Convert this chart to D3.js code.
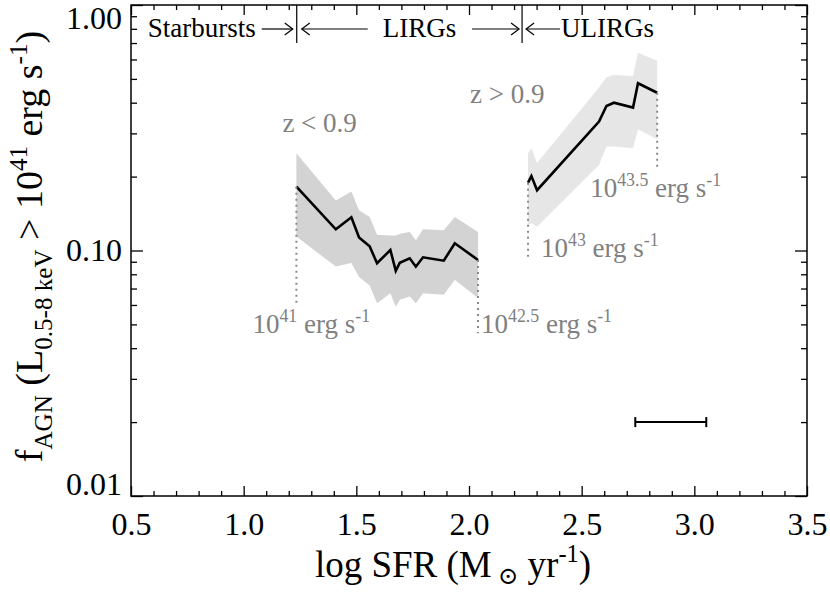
<!DOCTYPE html>
<meta charset="utf-8">
<style>
body { margin: 0; background: #fff; }
svg { display: block; font-family: 'Liberation Serif', 'DejaVu Serif', serif; }
.frame { fill: none; stroke: #000; stroke-width: 1.5px; }
.axis path { display: none; }
.axis line { stroke: #000; stroke-width: 1.3px; }
.axis text { font-size: 32px; fill: #000; font-family: 'Liberation Serif', 'DejaVu Serif', serif; }
.band-low { fill: #d3d3d3; }
.band-high { fill: #e6e6e6; }
.line { fill: none; stroke: #000; stroke-width: 2.6px; }
.drop { stroke: #8a8a8a; stroke-width: 2px; stroke-dasharray: 2,4; }
.note { fill: #808080; font-size: 27px; white-space: pre; }
.head { fill: #000; font-size: 27px; }
.title { fill: #000; white-space: pre; }
.arrow { fill: none; stroke: #000; stroke-width: 1.2px; }
</style>
<body>
<script src="https://d3js.org/d3.v7.min.js"></script>
<script>

// z < 0.9 sample: log SFR, AGN fraction and the shaded range
var sfrLow    = [1.234, 1.409, 1.478, 1.512, 1.559, 1.592, 1.651, 1.675, 1.693, 1.737, 1.764, 1.796, 1.888, 1.937, 2.040];
var fracLow   = [0.182, 0.122, 0.1365, 0.113, 0.104, 0.0887, 0.1005, 0.0827, 0.0892, 0.0929, 0.0859, 0.0938, 0.0909, 0.107, 0.0915];
var fracLowUp = [0.249, 0.160, 0.174, 0.146, 0.137, 0.116, 0.115, 0.115, 0.117, 0.119, 0.110, 0.122, 0.121, 0.137, 0.119];
var fracLowDn = [0.114, 0.086, 0.089, 0.078, 0.072, 0.061, 0.067, 0.059, 0.063, 0.065, 0.061, 0.067, 0.066, 0.076, 0.064];

// z > 0.9 sample
var sfrHigh    = [2.262, 2.277, 2.302, 2.577, 2.610, 2.643, 2.728, 2.750, 2.835];
var fracHigh   = [0.189, 0.201, 0.176, 0.335, 0.388, 0.400, 0.382, 0.480, 0.439];
var fracHighUp = [0.249, 0.261, 0.227, 0.461, 0.508, 0.519, 0.514, 0.639, 0.593];
var fracHighDn = [0.127, 0.129, 0.125, 0.223, 0.265, 0.265, 0.261, 0.312, 0.284];

// dotted luminosity limits
var cutSfr    = [1.234, 2.040, 2.262, 2.835];
var cutTop    = [0.182, 0.0915, 0.189, 0.439];
var cutBottom = [0.060, 0.046, 0.0944, 0.2195];
var cutPower  = ["41", "42.5", "43", "43.5"];

// galaxy classes split at LIR = 1e11, 1e12
var classEdges = [1.2355, 2.2355];
var classNames = ["Starbursts", "LIRGs", "ULIRGs"];

// typical SFR error bar
var errSfr  = [2.738, 3.053];
var errFrac = 0.02;

// ticks
var xTicks      = [0.5, 1.0, 1.5, 2.0, 2.5, 3.0, 3.5];
var xTickLabels = ["0.5", "1.0", "1.5", "2.0", "2.5", "3.0", "3.5"];
var xMinor      = d3.range(0.6, 3.45, 0.1).filter(function(v) { return Math.abs(v * 2 - Math.round(v * 2)) > 0.01; });
var yTicks      = [0.01, 0.1, 1];
var yTickLabels = ["0.01", "0.10", "1.00"];
var yMinor      = [2, 3, 4, 5, 6, 7, 8, 9].map(function(m) { return m * 0.01; })
                  .concat([2, 3, 4, 5, 6, 7, 8, 9].map(function(m) { return m * 0.1; }));

var margin = {top: 5, right: 23, bottom: 97, left: 131},
    width = 830 - margin.left - margin.right,
    height = 593 - margin.top - margin.bottom;

var x = d3.scaleLinear().domain([0.5, 3.5]).range([0, width]);
var y = d3.scaleLog().domain([0.01, 1]).range([height, 0]);

var svg = d3.select("body").append("svg")
    .attr("width", 830)
    .attr("height", 593)
  .append("g")
    .attr("transform", "translate(" + margin.left + "," + margin.top + ")");

function rows(xs, mid, up, dn) {
  return xs.map(function(v, i) { return {sfr: v, f: mid[i], hi: up[i], lo: dn[i]}; });
}
var lowData = rows(sfrLow, fracLow, fracLowUp, fracLowDn);
var highData = rows(sfrHigh, fracHigh, fracHighUp, fracHighDn);

var band = d3.area()
    .x(function(d) { return x(d.sfr); })
    .y0(function(d) { return y(d.lo); })
    .y1(function(d) { return y(d.hi); });
var valueline = d3.line()
    .x(function(d) { return x(d.sfr); })
    .y(function(d) { return y(d.f); });

svg.append("path").datum(lowData).attr("class", "band-low").attr("d", band);
svg.append("path").datum(highData).attr("class", "band-high").attr("d", band);
svg.append("path").datum(lowData).attr("class", "line").attr("d", valueline);
svg.append("path").datum(highData).attr("class", "line").attr("d", valueline);

// dotted drop lines
svg.selectAll(".drop").data(cutSfr).enter().append("line")
    .attr("class", "drop")
    .attr("x1", function(d) { return x(d); })
    .attr("x2", function(d) { return x(d); })
    .attr("y1", function(d, i) { return y(cutTop[i]); })
    .attr("y2", function(d, i) { return y(cutBottom[i]); });

// text with sub/superscripts
function rich(sel, parts, size, subShift) {
  var shift = 0;
  parts.forEach(function(p) {
    var target = p[1] === "sup" ? -0.4 * size : (p[1] === "sub" ? (subShift || 0.27) * size : 0);
    sel.append("tspan")
        .attr("dy", target - shift)
        .style("font-size", (p[1] ? 0.66 * size : size) + "px")
        .text(p[0]);
    shift = target;
  });
}

// luminosity labels
var cutOffset = [[-44, 28], [3, 0], [13, 0], [-67, 30]];
cutSfr.forEach(function(v, i) {
  var t = svg.append("text").attr("class", "note")
      .attr("x", x(v) + cutOffset[i][0])
      .attr("y", y(cutBottom[i]) + cutOffset[i][1]);
  rich(t, [["10", null], [cutPower[i], "sup"], [" erg s", null], ["-1", "sup"]], 27);
});

svg.append("text").attr("class", "note")
    .attr("x", x(sfrLow[0]) - 14).attr("y", y(fracLowUp[0]) - 21)
    .text("z < 0.9");
svg.append("text").attr("class", "note")
    .attr("x", x(sfrHigh[0]) - 58).attr("y", y(fracHighUp[0]) - 50)
    .text("z > 0.9");

// error bar
var ey = y(errFrac);
svg.append("line").attr("class", "line").style("stroke-width", "2px")
    .attr("x1", x(errSfr[0])).attr("x2", x(errSfr[1])).attr("y1", ey).attr("y2", ey);
errSfr.forEach(function(v) {
  svg.append("line").attr("class", "line").style("stroke-width", "2px")
      .attr("x1", x(v)).attr("x2", x(v)).attr("y1", ey - 5).attr("y2", ey + 5);
});

// class header
var e0 = x(classEdges[0]), e1 = x(classEdges[1]), ay = 24;
classEdges.forEach(function(v) {
  svg.append("line").attr("class", "arrow")
      .attr("x1", x(v)).attr("x2", x(v)).attr("y1", 0).attr("y2", 38);
});
function arrow(from, to) {
  var dir = to > from ? 1 : -1;
  svg.append("line").attr("class", "arrow")
      .attr("x1", from).attr("x2", to).attr("y1", ay).attr("y2", ay);
  svg.append("path").attr("class", "arrow")
      .attr("d", "M" + (to - dir * 8) + "," + (ay - 6) + "L" + to + "," + ay + "L" + (to - dir * 8) + "," + (ay + 6));
}
svg.append("text").attr("class", "head").attr("x", e0 - 41).attr("y", 32)
    .attr("text-anchor", "end").text(classNames[0]);
arrow(e0 - 35, e0 - 4);
arrow(e0 + 71, e0 + 5);
svg.append("text").attr("class", "head").attr("x", e0 + 86).attr("y", 32).text(classNames[1]);
arrow(e1 - 50, e1 - 3);
arrow(e1 + 38, e1 + 4);
svg.append("text").attr("class", "head").attr("x", e1 + 39).attr("y", 32).text(classNames[2]);

// axes: major + minor ticks on all four sides, pointing inward
svg.append("g").attr("class", "axis")
    .attr("transform", "translate(0," + height + ")")
    .call(d3.axisBottom(x).tickValues(xTicks).tickSizeInner(-10).tickSizeOuter(0).tickPadding(16)
      .tickFormat(function(d, i) { return xTickLabels[i]; }));
svg.append("g").attr("class", "axis")
    .attr("transform", "translate(0," + height + ")")
    .call(d3.axisBottom(x).tickValues(xMinor).tickSizeInner(-5).tickSizeOuter(0).tickFormat(""));
svg.append("g").attr("class", "axis")
    .call(d3.axisTop(x).tickValues(xTicks).tickSizeInner(-10).tickSizeOuter(0).tickFormat(""));
svg.append("g").attr("class", "axis")
    .call(d3.axisTop(x).tickValues(xMinor).tickSizeInner(-5).tickSizeOuter(0).tickFormat(""));

var yAxis = svg.append("g").attr("class", "axis")
    .call(d3.axisLeft(y).tickValues(yTicks).tickSizeInner(-12).tickSizeOuter(0).tickPadding(9)
      .tickFormat(function(d, i) { return yTickLabels[i]; }));
// keep the end labels inside the picture like the original
yAxis.selectAll("text").attr("dy", function(d, i) { return i === 2 ? "0.72em" : (i === 0 ? "-0.05em" : "0.32em"); });
svg.append("g").attr("class", "axis")
    .call(d3.axisLeft(y).tickValues(yMinor).tickSizeInner(-6).tickSizeOuter(0).tickFormat(""));
svg.append("g").attr("class", "axis")
    .attr("transform", "translate(" + width + ",0)")
    .call(d3.axisRight(y).tickValues(yTicks).tickSizeInner(-12).tickSizeOuter(0).tickFormat(""));
svg.append("g").attr("class", "axis")
    .attr("transform", "translate(" + width + ",0)")
    .call(d3.axisRight(y).tickValues(yMinor).tickSizeInner(-6).tickSizeOuter(0).tickFormat(""));

svg.append("rect").attr("class", "frame")
    .attr("width", width).attr("height", height);

// axis titles
var xt = svg.append("text").attr("class", "title")
    .attr("x", width / 2 - 16).attr("y", height + 81)
    .attr("text-anchor", "middle");
rich(xt, [["log SFR (M", null], [" \u2299", "sub"], [" yr", null], ["-1", "sup"], [")", null]], 37, 0.2);

var yt = svg.append("text").attr("class", "title")
    .attr("transform", "translate(" + (-89) + "," + (height / 2 - 4) + ") rotate(-90)")
    .attr("text-anchor", "middle");
rich(yt, [["f", null], ["AGN", "sub"], [" (L", null], ["0.5-8 keV", "sub"], [" > 10", null],
          ["41", "sup"], [" erg s", null], ["-1", "sup"], [")", null]], 38);

</script>
</body>
